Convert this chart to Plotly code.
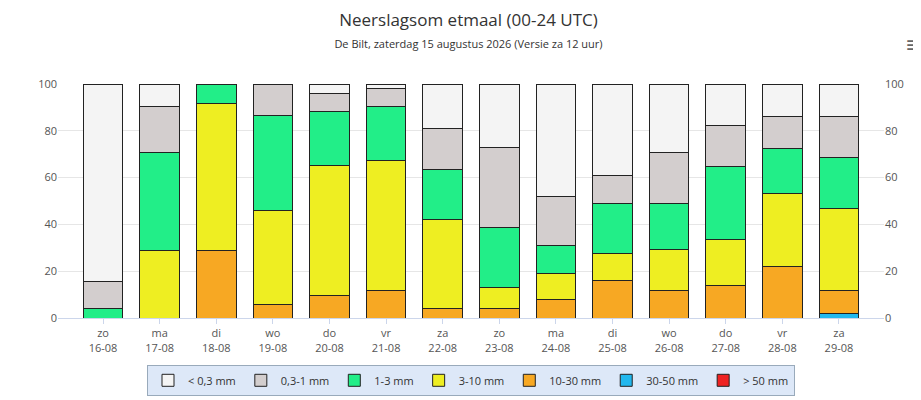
import plotly.graph_objects as go

days = ["zo<br>16-08","ma<br>17-08","di<br>18-08","wo<br>19-08","do<br>20-08","vr<br>21-08","za<br>22-08",
        "zo<br>23-08","ma<br>24-08","di<br>25-08","wo<br>26-08","do<br>27-08","vr<br>28-08","za<br>29-08"]
# cumulative tops
c_gt50  = [0,0,0,0,0,0,0,0,0,0,0,0,0,0]
c_30_50 = [0,0,0,0,0,0,0,0,0,0,0,0,0,2.1]
c_10_30 = [0,0,28.9,5.9,9.6,11.7,4.2,4.2,7.9,15.9,11.7,13.8,21.8,11.7]
c_3_10  = [0,28.9,91.6,46,65.3,67.4,42.3,13,19.2,27.6,29.3,33.5,53.1,46.9]
c_1_3   = [4.2,70.7,100,86.6,88.3,90.4,63.6,38.5,31,49,49,64.9,72.4,68.6]
c_03_1  = [15.5,90.4,100,100,95.8,97.9,80.8,72.8,51.9,60.7,70.7,82.4,86.2,86.2]
c_lt03  = [100]*14

names = ["< 0,3 mm","0,3-1 mm","1-3 mm","3-10 mm","10-30 mm","30-50 mm","> 50 mm"]
colors = ["#f4f4f4","#d3cece","#22ee88","#eeee22","#f7a823","#22b8ee","#ee2222"]
cums = [c_lt03,c_03_1,c_1_3,c_3_10,c_10_30,c_30_50,c_gt50]

fig = go.Figure()
for i in range(6, -1, -1):
    below = cums[i+1] if i < 6 else [0]*14
    vals = [round(a-b, 2) for a, b in zip(cums[i], below)]
    fig.add_trace(go.Bar(x=days, y=vals, name=names[i], marker_color=colors[i],
                         marker_line=dict(color="#222", width=1), legendrank=i))
fig.add_trace(go.Scatter(x=days, y=[0]*14, yaxis="y2", showlegend=False,
                         mode="markers", marker_opacity=0, hoverinfo="skip"))

fig.update_layout(
    barmode="stack", bargap=0.3, width=921, height=400,
    paper_bgcolor="white", plot_bgcolor="white",
    font=dict(family="Open Sans, DejaVu Sans", size=11, color="#333"),
    margin=dict(l=50, r=45, t=76, b=84),
    title=dict(text="Neerslagsom etmaal (00-24 UTC)<br><span style='font-size:11px'>De Bilt, zaterdag 15 augustus 2026 (Versie za 12 uur)</span>",
               x=0.5, xanchor="center", y=0.955, yanchor="top", font=dict(size=17, color="#333")),
    xaxis=dict(showline=True, linecolor="#ccd6eb", ticks="outside", tickcolor="#ccd6eb",
               tickfont=dict(size=11, color="#555")),
    yaxis=dict(range=[0, 100], dtick=20, gridcolor="#e6e6e6", tickfont=dict(size=11, color="#555"),
               zeroline=False),
    yaxis2=dict(range=[0, 100], dtick=20, overlaying="y", side="right", showgrid=False,
                tickfont=dict(size=11, color="#555"), zeroline=False),
    legend=dict(orientation="h", x=0.5, xanchor="center", y=-0.2, yanchor="top",
                bgcolor="#dde8f8", bordercolor="#9ab", borderwidth=1, font=dict(size=11, color="#333"),
                traceorder="normal", itemwidth=30, tracegroupgap=0),
)
fig.add_annotation(text="Bron: ECMWF/KNMI", xref="paper", yref="paper", x=1.05, y=-0.335,
                   xanchor="right", yanchor="top", showarrow=False, font=dict(size=8, color="#777"))
fig.add_annotation(text="≡", xref="paper", yref="paper", x=1.05, y=1.25, xanchor="right",
                   showarrow=False, font=dict(size=22, color="#666"))
fig.write_html("out.html")
